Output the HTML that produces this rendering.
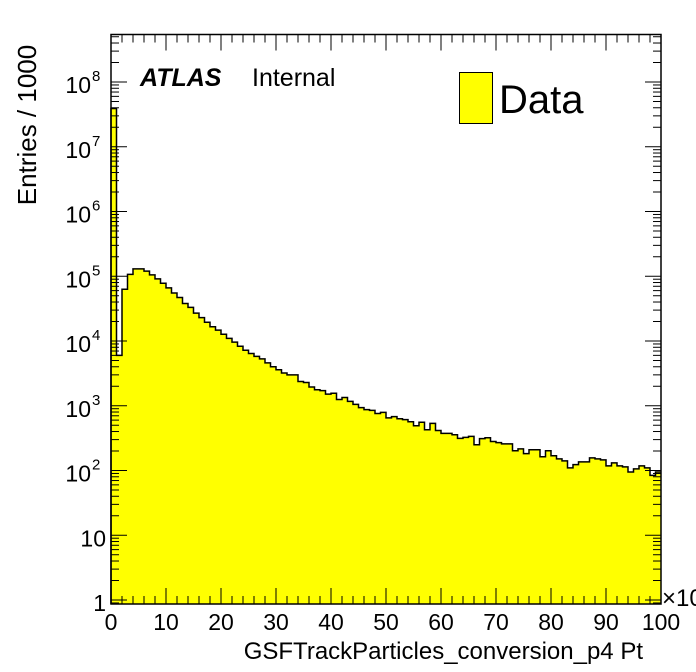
<!DOCTYPE html>
<html><head><meta charset="utf-8"><style>
html,body{margin:0;padding:0;background:#fff;}
svg{display:block;font-family:"Liberation Sans",Arial,sans-serif;}
</style></head><body>
<svg id="chart" width="696" height="672" viewBox="0 0 696 672" xmlns="http://www.w3.org/2000/svg">
<rect x="0" y="0" width="696" height="672" fill="#fff"/>
<g id="plot"></g>
<g id="axes"></g>
<text transform="translate(36,125) rotate(-90)" text-anchor="middle" font-size="26">Entries / 1000</text>
<text x="643" y="659" text-anchor="end" font-size="24">GSFTrackParticles_conversion_p4 Pt</text>
<text x="662" y="606" font-size="24">×10</text>
<text x="140" y="86" font-size="25" font-weight="bold" font-style="italic">ATLAS</text>
<text x="252" y="86" font-size="25">Internal</text>
<rect x="459.5" y="72.5" width="33" height="51" fill="#ffff00" stroke="#000" stroke-width="1"/>
<text x="499" y="113" font-size="40">Data</text>
</svg>
<script>
const binEdgesLow = [0, 100];
const nBins = 100;
const counts = [3.9e7,6000,6.3e4,1.07e5,1.3e5,1.3e5,1.2e5,1.05e5,9.1e4,7.8e4,
6.6e4,5.5e4,4.7e4,3.8e4,3.3e4,2.7e4,2.3e4,1.95e4,1.66e4,1.47e4,
1.27e4,1.1e4,9600,8300,7200,6400,5800,5300,4600,4000,
3600,3200,3000,3000,2370,2290,1950,1770,1710,1510,
1560,1250,1340,1170,1050,935,870,850,760,790,
650,680,630,610,565,490,555,425,535,415,
375,375,357,313,325,337,250,310,320,280,
270,258,258,202,216,182,209,209,163,202,
169,151,141,110,123,136,136,157,151,146,
118,131,118,114,95,106,118,110,84,95];
const xTickLabels = ["0","10","20","30","40","50","60","70","80","90","100"];
const yTickExponents = [0,1,2,3,4,5,6,7,8];

const L=111,R=661,T=34.5,B=604;
const Y0=600, DEC=64.75;
const xmin=binEdgesLow[0], xmax=binEdgesLow[1];
function xs(v){return L+(v-xmin)/(xmax-xmin)*(R-L);}
function ys(v){return Y0-Math.log10(v)*DEC;}
const NS="http://www.w3.org/2000/svg";
const plot=document.getElementById('plot');
const axes=document.getElementById('axes');
function mk(tag,attrs,parent){const e=document.createElementNS(NS,tag);for(const k in attrs)e.setAttribute(k,attrs[k]);parent.appendChild(e);return e;}

// histogram
const bw=(xmax-xmin)/nBins;
let d="M"+xs(xmin)+","+B;
let outline="M"+xs(xmin)+","+B;
for(let i=0;i<counts.length;i++){
  const y=Math.max(T,Math.min(B,ys(counts[i])));
  d+=" L"+xs(xmin+i*bw)+","+y+" L"+xs(xmin+(i+1)*bw)+","+y;
  outline+=" L"+xs(xmin+i*bw)+","+y+" L"+xs(xmin+(i+1)*bw)+","+y;
}
d+=" L"+xs(xmax)+","+B+" Z";
const fill=mk('path',{d:d,fill:'#ffff00',stroke:'none'},plot);


const line=mk('path',{d:outline,fill:'none',stroke:'#000','stroke-width':1.5},plot);



// frame
const fr=mk('rect',{x:L,y:T,width:R-L,height:B-T,fill:'none',stroke:'#000','stroke-width':1.5},axes);



// x ticks
for(let v=xmin;v<=xmax+1e-9;v+=2){
  const major=(Math.round(v)%10===0);
  const len=major?16:8;
  const x=xs(v);
  const t1=mk('line',{x1:x,y1:B,x2:x,y2:B-len,stroke:'#000','stroke-width':1},axes);
  
  
  const t2=mk('line',{x1:x,y1:T,x2:x,y2:T+len,stroke:'#000','stroke-width':1},axes);
  
  
}
xTickLabels.forEach((lab,i)=>{
  const v=xmin+i*(xmax-xmin)/(xTickLabels.length-1);
  const t=mk('text',{x:xs(v),y:630,'text-anchor':'middle','font-size':23},axes);
  t.textContent=lab;
  
  
});

// y ticks
for(let e=-1;e<=8;e++){
  for(let m=1;m<=9;m++){
    const v=m*Math.pow(10,e);
    const y=ys(v);
    if(y<T||y>B)continue;
    const len=(m===1)?16:8;
    const a=mk('line',{x1:L,y1:y,x2:L+len,y2:y,stroke:'#000','stroke-width':1},axes);
    
    
    const b=mk('line',{x1:R,y1:y,x2:R-len,y2:y,stroke:'#000','stroke-width':1},axes);
    
    
  }
}
yTickExponents.forEach(e=>{
  const y=ys(Math.pow(10,e));
  const t=mk('text',{x:e>=2?91:106,y:y+11,'text-anchor':'end','font-size':23},axes);
  
  
  if(e===0){t.textContent="1";}
  else if(e===1){t.textContent="10";}
  else{
    t.textContent="10";
    const s=mk('text',{x:92,y:y-1,'font-size':15},axes);
    s.textContent=String(e);
    
    
  }
});
</script>
</body></html>
